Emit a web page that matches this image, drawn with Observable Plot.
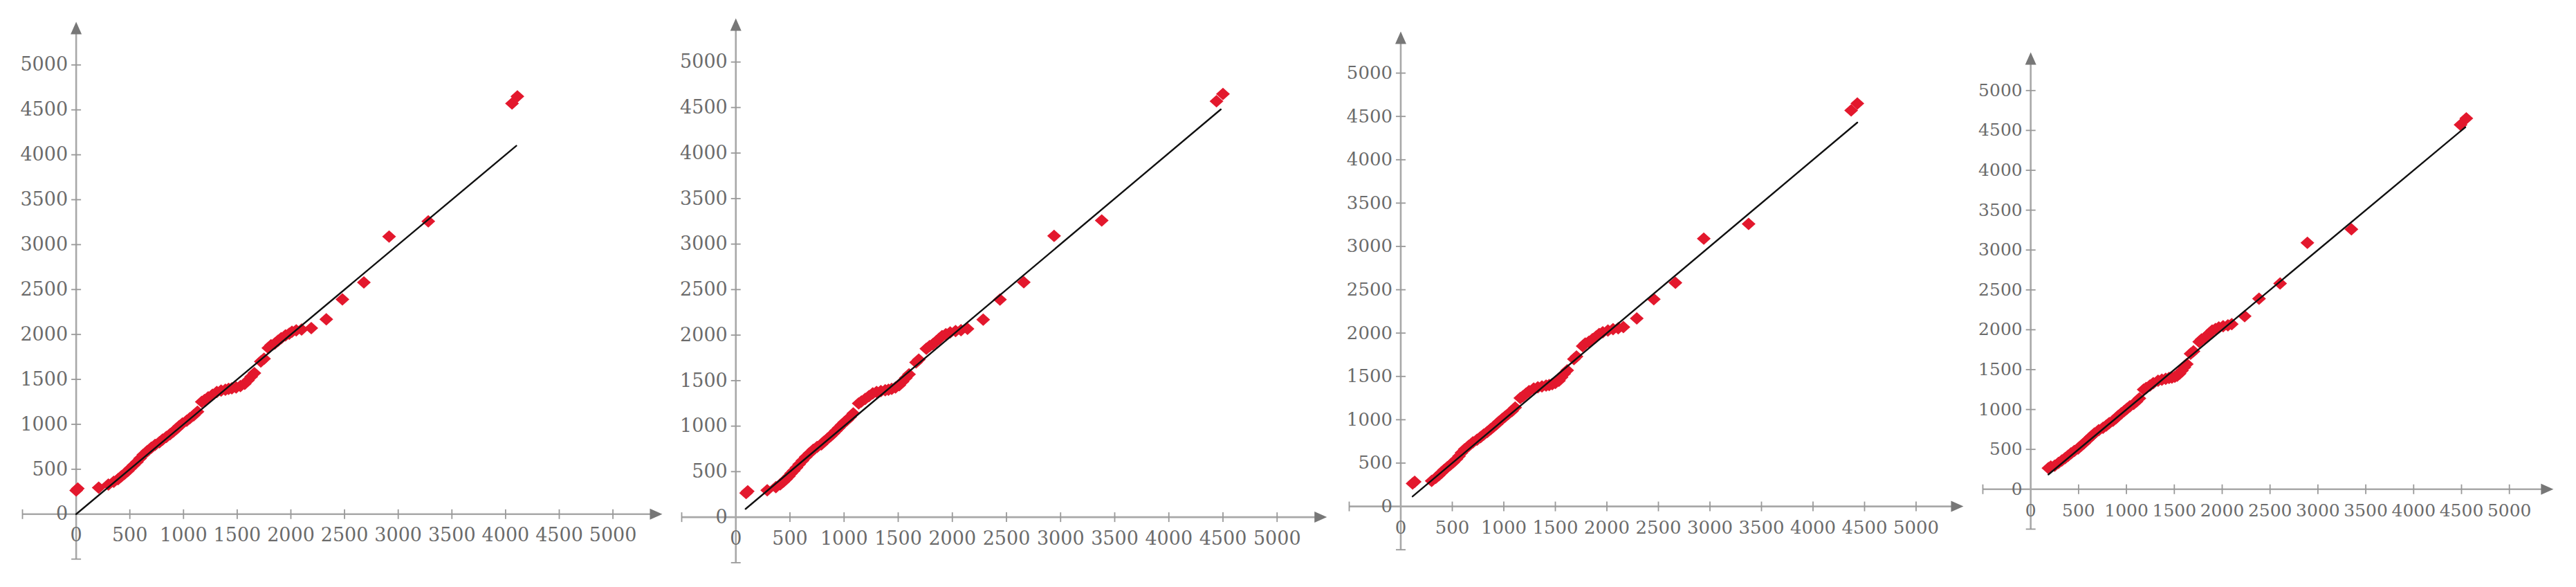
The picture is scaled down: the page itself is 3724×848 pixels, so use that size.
<!DOCTYPE html>
<html>
<head>
<meta charset="utf-8">
<script src="https://cdn.jsdelivr.net/npm/d3@7"></script>
<script src="https://cdn.jsdelivr.net/npm/@observablehq/plot@0.6"></script>
<style>
  html, body { margin: 0; padding: 0; background: #fff; }
  #root { position: relative; width: 3724px; height: 848px; overflow: hidden; background: #fff; }
  #root svg { position: absolute; }
</style>
</head>
<body>
<div id="root"></div>
<script>
// ---- data ----
// sorted observed values (same in every panel)
const yObserved = [265, 285, 295, 330, 360, 390, 420, 450, 480, 510, 545, 580, 620, 660, 700, 740,
  770, 800, 830, 860, 890, 920, 950, 980, 1010, 1040, 1070, 1100, 1140, 1250, 1270, 1300,
  1330, 1360, 1375, 1385, 1395, 1400, 1410, 1425, 1450, 1490, 1530, 1570, 1700, 1730, 1850, 1880,
  1900, 1930, 1960, 1990, 2010, 2030, 2045, 2055, 2070, 2170, 2390, 2580, 3090, 3260, 4570, 4650];

const xPanel1 = [0, 15, 210, 300, 350, 390, 420, 450, 480, 505, 535, 565, 595, 625, 660, 700,
  735, 775, 805, 840, 875, 905, 935, 960, 990, 1030, 1060, 1095, 1130, 1170, 1195, 1230,
  1270, 1310, 1350, 1390, 1420, 1450, 1490, 1530, 1570, 1600, 1630, 1660, 1720, 1750, 1790, 1815,
  1850, 1880, 1910, 1950, 1985, 2010, 2050, 2100, 2190, 2330, 2480, 2680, 2915, 3280, 4060, 4110];

const xPanel2 = [95, 110, 290, 370, 410, 440, 465, 490, 510, 535, 560, 585, 615, 645, 680, 715,
  750, 790, 815, 845, 875, 900, 925, 950, 975, 1000, 1030, 1055, 1085, 1135, 1160, 1195,
  1230, 1265, 1300, 1340, 1380, 1410, 1440, 1475, 1510, 1540, 1570, 1600, 1665, 1690, 1760, 1790,
  1820, 1850, 1880, 1905, 1940, 1980, 2030, 2080, 2140, 2285, 2440, 2660, 2940, 3380, 4440, 4500];

const xPanel3 = [115, 135, 300, 340, 370, 395, 420, 450, 480, 510, 540, 565, 590, 620, 660, 700,
  740, 775, 805, 840, 870, 900, 930, 955, 985, 1015, 1045, 1080, 1110, 1160, 1185, 1215,
  1245, 1290, 1330, 1370, 1410, 1440, 1470, 1500, 1535, 1560, 1585, 1615, 1680, 1705, 1765, 1790,
  1825, 1860, 1895, 1925, 1960, 2010, 2060, 2110, 2160, 2290, 2455, 2665, 2940, 3375, 4370, 4430];

const xPanel4 = [185, 210, 250, 290, 325, 360, 390, 420, 455, 495, 525, 560, 595, 630, 665, 710,
  755, 790, 820, 860, 890, 915, 945, 975, 1005, 1035, 1075, 1105, 1135, 1180, 1205, 1245,
  1280, 1330, 1370, 1410, 1445, 1475, 1505, 1530, 1555, 1580, 1605, 1630, 1670, 1700, 1760, 1785,
  1815, 1845, 1870, 1895, 1930, 1965, 2010, 2060, 2100, 2235, 2385, 2605, 2890, 3350, 4490, 4550];

// reference line y = x, from first to last theoretical value
const lineStart = [0, 90, 115, 185];
const lineEnd = [4100, 4480, 4430, 4540];

const tickValues = [-500, 500, 1000, 1500, 2000, 2500, 3000, 3500, 4000, 4500, 5000];
const xTickLabels = [0, 500, 1000, 1500, 2000, 2500, 3000, 3500, 4000, 4500, 5000];
const yTickLabels = [0, 500, 1000, 1500, 2000, 2500, 3000, 3500, 4000, 4500, 5000];

// ---- layout (pixel geometry of each panel's frame) ----
const xDomain = [-500, 5460];
const yDomain = [-500, 5480];
const layout = [
  {left: 32.1,   top: 31.3, kx: 0.1552, ky: 0.1298, font: 27},
  {left: 985.0,  top: 25.9, kx: 0.1565, ky: 0.1315, font: 27},
  {left: 1950.0, top: 45.0, kx: 0.1490, ky: 0.1252, font: 26},
  {left: 2865.8, top: 74.5, kx: 0.1384, ky: 0.1152, font: 25}
];
const xSeries = [xPanel1, xPanel2, xPanel3, xPanel4];

const RED = "#e3182d";
const AXIS = "#a8a8a8";
const LABEL = "#6b6b6b";

// custom symbols (pixel units)
const vTick = {draw(c) { c.moveTo(0, -7); c.lineTo(0, 7); }};
const hTick = {draw(c) { c.moveTo(-7, 0); c.lineTo(7, 0); }};
const arrowRight = {draw(c) { c.moveTo(0, 0); c.lineTo(-18, -8); c.lineTo(-18, 8); c.closePath(); }};
const arrowUp = {draw(c) { c.moveTo(0, 0); c.lineTo(-8, 18); c.lineTo(8, 18); c.closePath(); }};
const diamond = {draw(c) { c.moveTo(0, -9); c.lineTo(10, 0); c.lineTo(0, 9); c.lineTo(-10, 0); c.closePath(); }};

const root = document.getElementById("root");
const m = 12;

layout.forEach((L, i) => {
  const W = (xDomain[1] - xDomain[0]) * L.kx;
  const H = (yDomain[1] - yDomain[0]) * L.ky;
  const pts = yObserved.map((y, j) => ({x: xSeries[i][j], y}));
  const linePts = [{x: lineStart[i], y: lineStart[i]}, {x: lineEnd[i], y: lineEnd[i]}];
  const font = "DejaVu Serif, Liberation Serif, serif";
  const svg = Plot.plot({
    width: W + 2 * m,
    height: H + 2 * m,
    marginLeft: m, marginRight: m, marginTop: m, marginBottom: m,
    x: {domain: xDomain, axis: null},
    y: {domain: yDomain, axis: null},
    style: {background: "transparent", overflow: "visible"},
    marks: [
      Plot.ruleY([0], {x1: xDomain[0], x2: xDomain[1] - 10 / L.kx, stroke: AXIS, strokeWidth: 2.6}),
      Plot.ruleX([0], {y1: yDomain[0], y2: yDomain[1] - 10 / L.ky, stroke: AXIS, strokeWidth: 2.6}),
      Plot.dot(tickValues, {x: d => d, y: 0, symbol: vTick, stroke: "#999", strokeWidth: 1.8, fill: "none"}),
      Plot.dot(tickValues, {x: 0, y: d => d, symbol: hTick, stroke: "#999", strokeWidth: 1.8, fill: "none"}),
      Plot.dot([0], {x: xDomain[1], y: 0, symbol: arrowRight, fill: "#777", stroke: "none"}),
      Plot.dot([0], {x: 0, y: yDomain[1], symbol: arrowUp, fill: "#777", stroke: "none"}),
      Plot.text(xTickLabels, {x: d => d, y: 0, dy: 31, text: d => String(d), fill: LABEL,
        fontSize: L.font, fontFamily: font, textAnchor: "middle"}),
      Plot.text(yTickLabels, {x: 0, y: d => d, dx: -12, text: d => String(d), fill: LABEL,
        fontSize: L.font, fontFamily: font, textAnchor: "end"}),
      Plot.dot(pts, {x: "x", y: "y", symbol: diamond, fill: RED, stroke: "none"}),
      Plot.line(linePts, {x: "x", y: "y", stroke: "#111", strokeWidth: 2.4})
    ]
  });
  svg.style.left = (L.left - m) + "px";
  svg.style.top = (L.top - m) + "px";
  root.appendChild(svg);
});
</script>
</body>
</html>
